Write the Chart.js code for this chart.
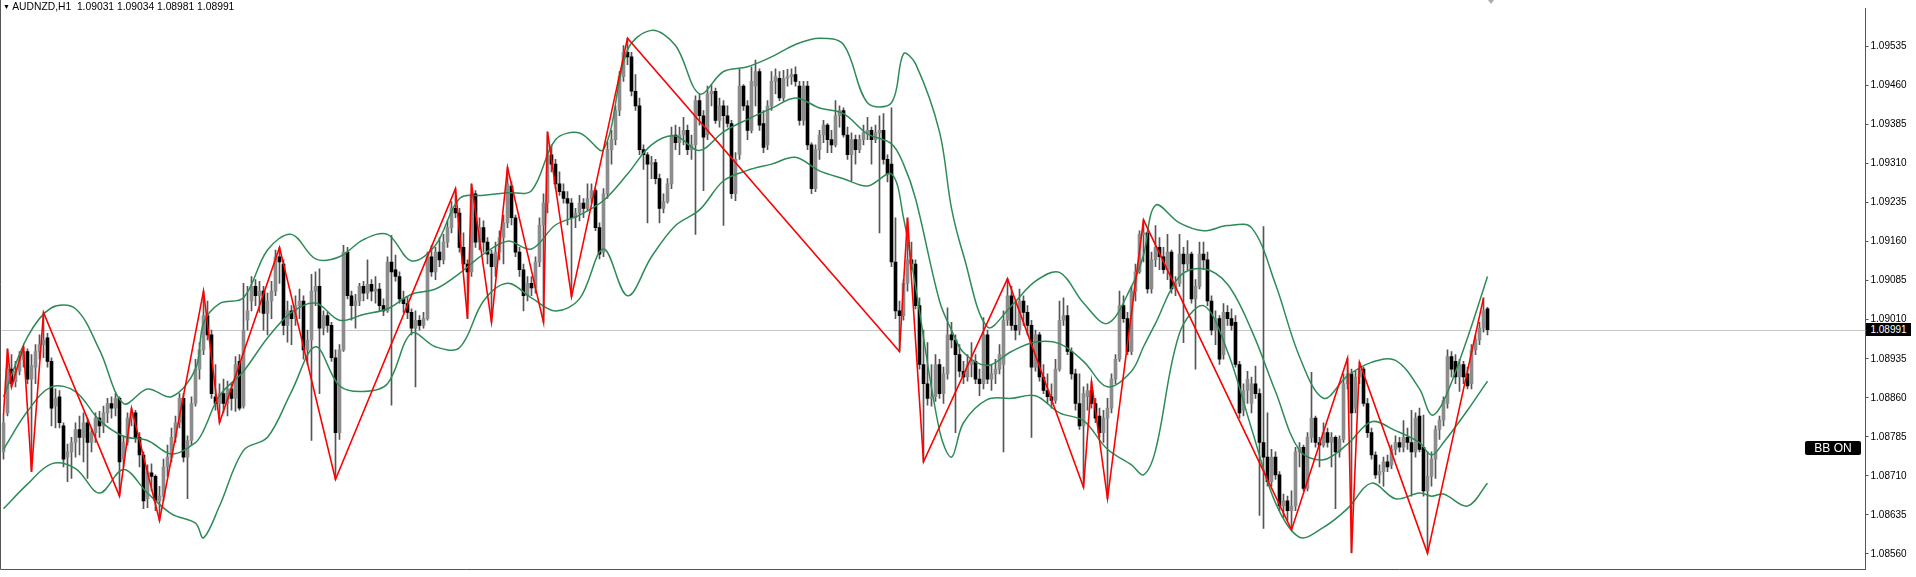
<!DOCTYPE html>
<html><head><meta charset="utf-8">
<script src="https://cdn.jsdelivr.net/npm/chart.js@4.4.0/dist/chart.umd.min.js"></script>
<style>
html,body{margin:0;padding:0;background:#fff;overflow:hidden;}
#wrap{position:relative;width:1916px;height:577px;}
canvas{position:absolute;left:0;top:0;}
#title{position:absolute;left:3px;top:0px;font:10.3px "Liberation Sans",Arial,sans-serif;color:#000;white-space:pre;line-height:14px;}
#title .tri{font-size:7px;position:relative;top:-1px;}
#bbon{position:absolute;left:1805px;top:441px;width:56px;height:14px;background:#000;color:#fff;font:12px "Liberation Sans",Arial,sans-serif;text-align:center;line-height:14px;border-radius:2px;}
#ptag{position:absolute;left:1866px;width:45px;height:13px;background:#000;color:#fff;font:10px "Liberation Sans",Arial,sans-serif;line-height:13px;text-align:center;}
#shift{position:absolute;left:1488px;top:0;width:0;height:0;border-left:3px solid transparent;border-right:3px solid transparent;border-top:4px solid #aaa;}
</style></head>
<body><div id="wrap"><canvas id="c" width="1916" height="577"></canvas><div id="title"></div><div id="bbon">BB ON</div><div id="ptag"></div><div id="shift"></div></div>
<script>
const symbol = "AUDNZD,H1";
const yTicks = [1.09535,1.09460,1.09385,1.09310,1.09235,1.09160,1.09085,1.09010,1.08935,1.08860,1.08785,1.08710,1.08635,1.08560];

const opens = [
1.08756,1.08831,1.08915,1.08891,1.08911,1.08934,1.08949,1.08896,1.08919,1.08949,
1.08962,1.08975,1.08930,1.08844,1.08862,1.08806,1.08746,1.08756,1.08774,1.08799,
1.08784,1.08812,1.08774,1.08793,1.08821,1.08806,1.08831,1.08849,1.08840,1.08859,
1.08742,1.08774,1.08821,1.08831,1.08784,1.08750,1.08666,1.08716,1.08709,1.08662,
1.08671,1.08727,1.08746,1.08784,1.08812,1.08859,1.08746,1.08778,1.08849,1.08915,
1.08952,1.09018,1.08981,1.08862,1.08849,1.08868,1.08849,1.08877,1.08859,1.08930,
1.08844,1.09009,1.09046,1.09074,1.09056,1.09065,1.09022,1.09046,1.09065,1.09131,
1.09117,1.08999,1.09027,1.09012,1.09037,1.09046,1.08952,1.08971,1.09065,1.09074,
1.08994,1.09018,1.08999,1.08937,1.08793,1.08952,1.09140,1.09056,1.09037,1.09046,
1.09074,1.09061,1.09078,1.09065,1.09069,1.09037,1.09027,1.09121,1.09106,1.09093,
1.09050,1.09041,1.09024,1.08994,1.09009,1.08999,1.09012,1.09131,1.09102,1.09140,
1.09125,1.09159,1.09187,1.09224,1.09215,1.09149,1.09117,1.09102,1.09252,1.09159,
1.09187,1.09159,1.09136,1.09112,1.09140,1.09168,1.09196,1.09267,1.09206,1.09140,
1.09106,1.09056,1.09080,1.09071,1.09121,1.09192,1.09234,1.09327,1.09309,1.09271,
1.09256,1.09243,1.09234,1.09206,1.09215,1.09234,1.09224,1.09243,1.09258,1.09187,
1.09140,1.09252,1.09337,1.09356,1.09412,1.09477,1.09524,1.09515,1.09449,1.09421,
1.09337,1.09327,1.09309,1.09312,1.09281,1.09224,1.09237,1.09271,1.09365,1.09350,
1.09365,1.09374,1.09337,1.09346,1.09431,1.09402,1.09365,1.09444,1.09449,1.09393,
1.09421,1.09402,1.09387,1.09252,1.09327,1.09459,1.09421,1.09374,1.09459,1.09487,
1.09387,1.09346,1.09421,1.09468,1.09474,1.09436,1.09474,1.09477,1.09481,1.09459,
1.09393,1.09459,1.09346,1.09262,1.09337,1.09365,1.09384,1.09356,1.09346,1.09402,
1.09412,1.09365,1.09327,1.09356,1.09337,1.09356,1.09369,1.09374,1.09356,1.09369,
1.09374,1.09318,1.09309,1.09121,1.09027,1.09018,1.09080,1.09125,1.09117,1.09037,
1.08924,1.08887,1.08859,1.08862,1.08924,1.08868,1.08906,1.08981,1.08971,1.08943,
1.08911,1.08900,1.08924,1.08930,1.08896,1.08887,1.08981,1.08896,1.08906,1.08915,
1.08924,1.09009,1.09056,1.08999,1.08990,1.09046,1.09024,1.08999,1.08919,1.08981,
1.08900,1.08874,1.08862,1.08855,1.08915,1.09009,1.09018,1.08949,1.08906,1.08849,
1.08806,1.08862,1.08874,1.08849,1.08825,1.08793,1.08821,1.08840,1.08896,1.08934,
1.09037,1.09012,1.08949,1.09065,1.09102,1.09174,1.09177,1.09069,1.09125,1.09149,
1.09131,1.09106,1.09140,1.09069,1.09080,1.09136,1.09117,1.09136,1.09050,1.09074,
1.09136,1.09125,1.09046,1.08990,1.09012,1.08943,1.09024,1.09012,1.09005,1.08924,
1.08836,1.08874,1.08849,1.08887,1.08868,1.08774,1.08746,1.08699,1.08746,1.08712,
1.08652,1.08662,1.08643,1.08652,1.08756,1.08765,1.08686,1.08784,1.08821,1.08774,
1.08769,1.08793,1.08774,1.08784,1.08756,1.08780,1.08887,1.08906,1.08840,1.08900,
1.08915,1.08849,1.08793,1.08750,1.08712,1.08718,1.08737,1.08731,1.08761,1.08774,
1.08765,1.08784,1.08774,1.08756,1.08825,1.08765,1.08681,1.08709,1.08742,1.08799,
1.08817,1.08849,1.08939,1.08930,1.08900,1.08924,1.08906,1.08887,1.08952,1.08971,1.08994,1.09031];

const highs = [
1.08827,1.08954,1.08943,1.08930,1.08949,1.08958,1.08954,1.08943,1.08962,1.08981,
1.09024,1.08984,1.08937,1.08877,1.08874,1.08812,1.08771,1.08784,1.08812,1.08825,
1.08831,1.08821,1.08802,1.08831,1.08834,1.08844,1.08859,1.08862,1.08868,1.08862,
1.08787,1.08831,1.08840,1.08836,1.08793,1.08756,1.08731,1.08733,1.08712,1.08690,
1.08742,1.08769,1.08802,1.08825,1.08868,1.08868,1.08787,1.08862,1.08934,1.08966,
1.09065,1.09046,1.08990,1.08924,1.08887,1.08896,1.08892,1.08887,1.08939,1.08943,
1.09080,1.09074,1.09093,1.09087,1.09084,1.09074,1.09061,1.09084,1.09144,1.09149,
1.09125,1.09046,1.09037,1.09056,1.09069,1.09056,1.08990,1.09097,1.09102,1.09108,
1.09027,1.09024,1.09005,1.08952,1.08962,1.09153,1.09149,1.09065,1.09059,1.09080,
1.09084,1.09125,1.09087,1.09093,1.09080,1.09050,1.09131,1.09172,1.09134,1.09102,
1.09065,1.09054,1.09031,1.09027,1.09018,1.09024,1.09140,1.09153,1.09149,1.09168,
1.09174,1.09200,1.09237,1.09262,1.09224,1.09177,1.09125,1.09271,1.09258,1.09206,
1.09200,1.09168,1.09144,1.09159,1.09181,1.09211,1.09303,1.09275,1.09211,1.09149,
1.09117,1.09093,1.09093,1.09131,1.09206,1.09252,1.09371,1.09346,1.09318,1.09294,
1.09271,1.09256,1.09243,1.09224,1.09249,1.09243,1.09271,1.09271,1.09262,1.09196,
1.09262,1.09352,1.09374,1.09421,1.09487,1.09537,1.09551,1.09524,1.09481,1.09436,
1.09346,1.09331,1.09324,1.09318,1.09290,1.09252,1.09281,1.09380,1.09384,1.09380,
1.09399,1.09384,1.09365,1.09440,1.09444,1.09412,1.09459,1.09462,1.09455,1.09436,
1.09431,1.09421,1.09393,1.09331,1.09491,1.09462,1.09431,1.09496,1.09509,1.09492,
1.09412,1.09431,1.09487,1.09492,1.09487,1.09489,1.09491,1.09492,1.09496,1.09468,
1.09468,1.09468,1.09350,1.09346,1.09374,1.09393,1.09387,1.09374,1.09431,1.09421,
1.09417,1.09380,1.09369,1.09365,1.09365,1.09384,1.09399,1.09380,1.09384,1.09402,
1.09406,1.09327,1.09417,1.09206,1.09046,1.09087,1.09206,1.09159,1.09125,1.09052,
1.08990,1.08966,1.08924,1.08943,1.08934,1.08919,1.09033,1.09005,1.08981,1.08962,
1.08930,1.08943,1.08966,1.08943,1.08915,1.09014,1.08990,1.08924,1.08934,1.08962,
1.09027,1.09089,1.09074,1.09046,1.09069,1.09056,1.09037,1.09009,1.08990,1.08986,
1.08924,1.08906,1.08887,1.08934,1.09046,1.09052,1.09037,1.08956,1.08915,1.08906,
1.08881,1.08887,1.08891,1.08859,1.08840,1.08836,1.08859,1.08906,1.08943,1.09065,
1.09056,1.09024,1.09074,1.09117,1.09181,1.09202,1.09181,1.09140,1.09191,1.09168,
1.09149,1.09174,1.09144,1.09093,1.09174,1.09149,1.09162,1.09140,1.09087,1.09159,
1.09159,1.09140,1.09056,1.09027,1.09018,1.09041,1.09037,1.09031,1.09018,1.08930,
1.08887,1.08911,1.08900,1.08921,1.08877,1.09189,1.08831,1.08761,1.08756,1.08718,
1.08675,1.08671,1.08681,1.08765,1.08774,1.08769,1.08793,1.08909,1.08825,1.08784,
1.08812,1.08802,1.08793,1.08787,1.08787,1.08906,1.08936,1.08915,1.08911,1.08928,
1.08919,1.08859,1.08802,1.08756,1.08731,1.08746,1.08750,1.08769,1.08787,1.08784,
1.08816,1.08802,1.08836,1.08831,1.08840,1.08827,1.08756,1.08756,1.08806,1.08825,
1.08862,1.08952,1.08949,1.08943,1.08934,1.08930,1.08919,1.08962,1.08981,1.09005,1.09052,1.09034];

const lows = [
1.08742,1.08825,1.08881,1.08881,1.08904,1.08919,1.08887,1.08718,1.08887,1.08934,
1.08937,1.08919,1.08806,1.08802,1.08802,1.08727,1.08699,1.08705,1.08746,1.08750,
1.08737,1.08705,1.08756,1.08774,1.08784,1.08793,1.08812,1.08821,1.08825,1.08671,
1.08727,1.08769,1.08806,1.08774,1.08727,1.08647,1.08649,1.08681,1.08643,1.08624,
1.08662,1.08709,1.08737,1.08774,1.08802,1.08737,1.08666,1.08769,1.08844,1.08896,
1.08943,1.08971,1.08859,1.08836,1.08812,1.08831,1.08825,1.08836,1.08834,1.08836,
1.08840,1.08990,1.09027,1.09037,1.09024,1.08990,1.08981,1.09012,1.09056,1.09080,
1.08981,1.08967,1.08962,1.08999,1.09012,1.08934,1.08924,1.08778,1.09037,1.08868,
1.08981,1.08986,1.08930,1.08703,1.08780,1.08949,1.09050,1.09009,1.08994,1.09037,
1.09046,1.09050,1.09046,1.09042,1.09027,1.09018,1.09024,1.08846,1.09084,1.09042,
1.09024,1.09012,1.08981,1.08881,1.08990,1.08994,1.09009,1.09093,1.09087,1.09112,
1.09117,1.09149,1.09177,1.09206,1.09140,1.09106,1.09012,1.09093,1.09149,1.09144,
1.09140,1.09117,1.09005,1.09093,1.09125,1.09117,1.09187,1.09192,1.09131,1.09093,
1.09027,1.09046,1.09056,1.09061,1.09112,1.09005,1.09215,1.09294,1.09262,1.09249,
1.09234,1.09192,1.09054,1.09187,1.09200,1.09206,1.09219,1.09234,1.09181,1.09127,
1.09131,1.09243,1.09309,1.09346,1.09402,1.09468,1.09500,1.09440,1.09412,1.09327,
1.09299,1.09196,1.09281,1.09271,1.09196,1.09215,1.09234,1.09262,1.09337,1.09327,
1.09346,1.09327,1.09318,1.09174,1.09384,1.09258,1.09356,1.09421,1.09387,1.09380,
1.09191,1.09380,1.09243,1.09239,1.09318,1.09412,1.09356,1.09369,1.09421,1.09374,
1.09331,1.09337,1.09412,1.09444,1.09431,1.09431,1.09459,1.09462,1.09459,1.09384,
1.09384,1.09337,1.09252,1.09256,1.09318,1.09350,1.09331,1.09331,1.09342,1.09380,
1.09361,1.09318,1.09277,1.09309,1.09331,1.09346,1.09356,1.09309,1.09350,1.09177,
1.09309,1.09275,1.09112,1.09012,1.08949,1.09009,1.09065,1.09106,1.09031,1.08915,
1.08737,1.08846,1.08844,1.08853,1.08859,1.08849,1.08896,1.08956,1.08793,1.08900,
1.08887,1.08892,1.08900,1.08887,1.08864,1.08877,1.08887,1.08874,1.08887,1.08906,
1.08756,1.08999,1.08990,1.08971,1.08981,1.08999,1.08981,1.08784,1.08911,1.08892,
1.08868,1.08849,1.08840,1.08849,1.08911,1.08999,1.08943,1.08896,1.08836,1.08799,
1.08688,1.08836,1.08840,1.08812,1.08784,1.08774,1.08666,1.08831,1.08887,1.08930,
1.09005,1.08943,1.08943,1.09046,1.09099,1.09121,1.09061,1.09061,1.09112,1.09106,
1.09099,1.09087,1.09061,1.09056,1.09074,1.08966,1.09106,1.09042,1.08915,1.09069,
1.09106,1.09037,1.08981,1.08962,1.08924,1.08934,1.08999,1.08990,1.08919,1.08821,
1.08825,1.08849,1.08831,1.08859,1.08634,1.08609,1.08690,1.08690,1.08703,1.08643,
1.08630,1.08624,1.08606,1.08643,1.08727,1.08681,1.08681,1.08774,1.08765,1.08727,
1.08765,1.08765,1.08727,1.08647,1.08746,1.08774,1.08877,1.08562,1.08831,1.08887,
1.08844,1.08784,1.08742,1.08705,1.08696,1.08690,1.08718,1.08724,1.08750,1.08756,
1.08756,1.08761,1.08671,1.08746,1.08756,1.08671,1.08561,1.08690,1.08705,1.08780,
1.08806,1.08840,1.08900,1.08887,1.08872,1.08887,1.08877,1.08877,1.08943,1.08962,1.08986,1.08981];

const closes = [
1.08812,1.08915,1.08887,1.08911,1.08934,1.08949,1.08896,1.08922,1.08949,1.08962,
1.08971,1.08930,1.08840,1.08859,1.08812,1.08742,1.08756,1.08774,1.08799,1.08784,
1.08812,1.08774,1.08793,1.08821,1.08806,1.08831,1.08849,1.08840,1.08859,1.08737,
1.08774,1.08821,1.08831,1.08784,1.08750,1.08662,1.08718,1.08709,1.08662,1.08671,
1.08727,1.08746,1.08784,1.08812,1.08859,1.08746,1.08778,1.08849,1.08915,1.08952,
1.09018,1.08981,1.08868,1.08849,1.08868,1.08849,1.08877,1.08859,1.08924,1.08840,
1.08990,1.09027,1.09074,1.09056,1.09065,1.09022,1.09046,1.09065,1.09131,1.09121,
1.08999,1.09027,1.09012,1.09037,1.09046,1.08952,1.08971,1.09065,1.09074,1.08994,
1.09018,1.08999,1.08937,1.08793,1.08952,1.09140,1.09056,1.09037,1.09046,1.09074,
1.09061,1.09078,1.09065,1.09069,1.09037,1.09027,1.09121,1.09102,1.09093,1.09050,
1.09041,1.09024,1.08994,1.09009,1.08999,1.09012,1.09131,1.09102,1.09140,1.09125,
1.09159,1.09187,1.09224,1.09215,1.09149,1.09117,1.09102,1.09252,1.09159,1.09187,
1.09159,1.09136,1.09112,1.09140,1.09168,1.09196,1.09271,1.09206,1.09140,1.09106,
1.09056,1.09080,1.09071,1.09121,1.09192,1.09234,1.09327,1.09309,1.09271,1.09256,
1.09243,1.09234,1.09206,1.09215,1.09234,1.09224,1.09243,1.09258,1.09187,1.09136,
1.09252,1.09337,1.09356,1.09412,1.09477,1.09524,1.09515,1.09449,1.09421,1.09337,
1.09327,1.09309,1.09312,1.09281,1.09224,1.09237,1.09271,1.09365,1.09350,1.09365,
1.09374,1.09337,1.09346,1.09431,1.09402,1.09361,1.09444,1.09449,1.09393,1.09421,
1.09402,1.09387,1.09252,1.09318,1.09459,1.09421,1.09374,1.09468,1.09487,1.09384,
1.09341,1.09421,1.09468,1.09477,1.09436,1.09474,1.09477,1.09481,1.09468,1.09393,
1.09459,1.09346,1.09262,1.09337,1.09365,1.09384,1.09356,1.09346,1.09402,1.09412,
1.09365,1.09327,1.09356,1.09337,1.09356,1.09369,1.09374,1.09356,1.09369,1.09374,
1.09318,1.09290,1.09121,1.09027,1.09018,1.09080,1.09125,1.09117,1.09037,1.08924,
1.08887,1.08859,1.08862,1.08924,1.08868,1.08906,1.08981,1.08971,1.08943,1.08911,
1.08900,1.08924,1.08930,1.08896,1.08887,1.08981,1.08896,1.08906,1.08915,1.08943,
1.09009,1.09056,1.08999,1.08990,1.09046,1.09024,1.08999,1.08919,1.08981,1.08900,
1.08874,1.08862,1.08855,1.08915,1.09009,1.09018,1.08949,1.08906,1.08849,1.08806,
1.08868,1.08874,1.08849,1.08821,1.08793,1.08821,1.08840,1.08896,1.08934,1.09037,
1.09012,1.08949,1.09065,1.09102,1.09174,1.09177,1.09069,1.09125,1.09149,1.09131,
1.09106,1.09140,1.09069,1.09080,1.09136,1.09117,1.09136,1.09050,1.09074,1.09136,
1.09125,1.09046,1.08990,1.09012,1.08934,1.09024,1.09012,1.08999,1.08924,1.08831,
1.08874,1.08896,1.08887,1.08868,1.08774,1.08746,1.08699,1.08746,1.08712,1.08652,
1.08662,1.08643,1.08652,1.08756,1.08765,1.08686,1.08784,1.08821,1.08774,1.08769,
1.08793,1.08774,1.08784,1.08756,1.08780,1.08887,1.08906,1.08831,1.08900,1.08915,
1.08849,1.08793,1.08750,1.08712,1.08718,1.08737,1.08727,1.08761,1.08774,1.08765,
1.08784,1.08774,1.08756,1.08821,1.08761,1.08681,1.08709,1.08742,1.08799,1.08817,
1.08855,1.08939,1.08915,1.08900,1.08924,1.08900,1.08883,1.08952,1.08971,1.08994,1.09027,1.08991];

// ZigZag turning points (bar index, price)
const zzIdx = [0,1,2,5,7,10,29,32,39,50,54,69,83,113,116,117,122,126,135,136,142,156,224,226,230,251,270,272,276,285,322,336,337,339,356,370];
const zzPrice = [1.08827,1.08954,1.08881,1.08958,1.08718,1.09024,1.08671,1.08840,1.08624,1.09065,1.08812,1.09149,1.08703,1.09262,1.09012,1.09271,1.09005,1.09303,1.09005,1.09371,1.09054,1.09551,1.08949,1.09206,1.08737,1.09089,1.08688,1.08891,1.08666,1.09202,1.08606,1.08936,1.08562,1.08928,1.08561,1.09052];

// Bollinger bands read at these bar indexes
const bbIdx = [0,6,12,18,24,30,36,42,48,50,54,60,66,72,78,84,90,96,102,108,114,120,126,132,138,144,150,156,162,168,174,180,186,192,198,204,210,216,222,225,228,234,237,240,246,252,258,264,270,276,282,285,288,294,300,306,312,318,324,330,336,342,348,354,357,360,366,371];
const bbUpper = [1.08862,1.08977,1.09033,1.09031,1.08952,1.08849,1.08877,1.08862,1.08915,
1.09003,1.09041,1.09052,
1.09144,1.09174,1.09127,1.09131,1.09164,1.09174,1.09123,1.09153,1.09243,1.09249,
1.09254,1.09258,1.09356,1.09369,1.09337,1.09528,1.09566,1.09537,1.09444,1.09487,1.09496,
1.09515,1.09539,1.09551,1.09539,1.09427,1.09427,
1.09521,1.09502,
1.09371,1.09224,1.09134,1.08996,
1.09037,1.09084,1.09101,1.09042,1.09003,1.09074,
1.09134,1.09230,1.09196,1.09181,1.09191,
1.09187,1.09078,1.08939,1.08859,1.08902,1.08928,1.08932,1.08877,
1.08827,1.08853,1.08975,1.09093];
const bbMiddle = [1.08761,1.08834,1.08881,1.08872,1.08817,1.08786,1.08778,1.08752,1.08774,
1.08797,1.08864,1.08911,
1.08975,1.09024,1.09042,1.09009,1.09020,1.09031,1.09059,1.09069,1.09099,1.09136,
1.09161,1.09146,1.09192,1.09211,1.09239,1.09290,1.09346,1.09363,1.09335,1.09371,1.09395,
1.09416,1.09436,1.09417,1.09406,1.09367,1.09348,
1.09309,1.09243,
1.09046,1.08990,1.08947,1.08922,
1.08949,1.08967,1.08964,1.08930,1.08881,1.08911,
1.08958,1.09003,1.09093,1.09108,1.09078,
1.08990,1.08872,1.08759,1.08741,1.08771,1.08814,1.08797,1.08774,
1.08750,1.08774,1.08836,1.08892];
const bbLower = [1.08647,1.08694,1.08733,1.08724,1.08677,1.08722,1.08677,1.08637,1.08619,
1.08591,1.08652,1.08759,
1.08784,1.08872,1.08958,1.08883,1.08872,1.08887,1.08984,1.08958,1.08956,1.09046,
1.09080,1.09052,1.09027,1.09050,1.09146,1.09056,1.09131,1.09191,1.09221,1.09277,1.09297,
1.09309,1.09322,1.09296,1.09281,1.09267,1.09290,
1.09206,1.09074,
1.08797,1.08746,1.08812,1.08857,
1.08859,1.08864,1.08831,1.08816,1.08761,1.08731,
1.08712,1.08759,1.08984,1.09037,1.08949,
1.08801,1.08658,1.08592,1.08611,1.08647,1.08696,1.08666,1.08677,
1.08671,1.08675,1.08652,1.08696];

const N = opens.length;
if (highs.length !== N || lows.length !== N || closes.length !== N) throw new Error('OHLC length mismatch ' + [N, highs.length, lows.length, closes.length].join(','));
if (zzIdx.length !== zzPrice.length) throw new Error('zz mismatch');
if (bbUpper.length !== bbIdx.length || bbMiddle.length !== bbIdx.length || bbLower.length !== bbIdx.length) throw new Error('bb mismatch ' + [bbIdx.length, bbUpper.length, bbMiddle.length, bbLower.length].join(','));

const SLOTS = 466; // visible bar slots incl. empty space on the right
const slotLabels = Array.from({length: SLOTS}, (_, i) => String(i));
const last = N - 1;

document.getElementById('title').innerHTML = '<span class="tri">\u25BC</span> ' + symbol + '  ' +
  [opens[last], highs[last], lows[last], closes[last]].map(v => v.toFixed(5)).join(' ');

const pts = (idx, vals) => idx.map((x, k) => ({x, y: vals[k]}));

const framePlugin = {
  id: 'frame',
  beforeDatasetsDraw(chart) {
    const {ctx, chartArea: a, scales: {y}} = chart;
    const py = Math.round(y.getPixelForValue(closes[last])) + 0.5;
    ctx.save();
    ctx.strokeStyle = '#c8c8c8'; ctx.lineWidth = 1;
    ctx.beginPath(); ctx.moveTo(a.left, py); ctx.lineTo(a.right, py); ctx.stroke();
    ctx.restore();
  },
  afterDraw(chart) {
    const {ctx, chartArea: a, scales: {y}} = chart;
    ctx.save();
    ctx.strokeStyle = '#555'; ctx.lineWidth = 1;
    ctx.beginPath();
    ctx.moveTo(0.5, 0); ctx.lineTo(0.5, a.bottom + 0.5); ctx.lineTo(a.right, a.bottom + 0.5);
    ctx.stroke();
    ctx.restore();
    const tag = document.getElementById('ptag');
    tag.textContent = closes[last].toFixed(5);
    tag.style.top = (y.getPixelForValue(closes[last]) - 6.5) + 'px';
  }
};

new Chart(document.getElementById('c'), {
  type: 'bar',
  data: {
    labels: slotLabels,
    datasets: [
      { type: 'line', label: 'ZigZag', data: pts(zzIdx, zzPrice), xAxisID: 'xl', yAxisID: 'y',
        borderColor: '#ff0000', borderWidth: 1.6, pointRadius: 0, tension: 0, fill: false, order: 1 },
      { type: 'line', label: 'BB upper', data: pts(bbIdx, bbUpper), xAxisID: 'xl', yAxisID: 'y',
        borderColor: '#2e8b57', borderWidth: 1.5, pointRadius: 0, tension: 0.35, fill: false, order: 2 },
      { type: 'line', label: 'BB middle', data: pts(bbIdx, bbMiddle), xAxisID: 'xl', yAxisID: 'y',
        borderColor: '#2e8b57', borderWidth: 1.5, pointRadius: 0, tension: 0.35, fill: false, order: 2 },
      { type: 'line', label: 'BB lower', data: pts(bbIdx, bbLower), xAxisID: 'xl', yAxisID: 'y',
        borderColor: '#2e8b57', borderWidth: 1.5, pointRadius: 0, tension: 0.35, fill: false, order: 2 },
      { type: 'bar', label: 'body', data: opens.map((o, i) => [o, closes[i]]), xAxisID: 'x', yAxisID: 'y',
        backgroundColor: opens.map((o, i) => closes[i] >= o ? '#8c8c8c' : '#000000'),
        barThickness: 3, grouped: false, order: 3 },
      { type: 'bar', label: 'wick', data: lows.map((l, i) => [l, highs[i]]), xAxisID: 'x', yAxisID: 'y',
        backgroundColor: '#555555', barThickness: 1, grouped: false, order: 4 }
    ]
  },
  options: {
    responsive: false, animation: false, devicePixelRatio: 1, events: [],
    layout: { padding: { left: 1.5, top: 0, right: 0, bottom: 2 } },
    plugins: { legend: { display: false }, tooltip: { enabled: false }, title: { display: false } },
    scales: {
      x: { type: 'category', display: false, offset: true, grid: { display: false } },
      xl: { type: 'linear', display: false, offset: false, bounds: 'ticks', min: -0.5, max: SLOTS - 0.5, grid: { offset: false } },
      y: {
        position: 'right', min: 1.08531, max: 1.09609,
        afterBuildTicks: s => { s.ticks = yTicks.map(v => ({ value: v })); },
        afterFit: s => { s.width = 50.5; },
        ticks: { callback: v => Number(v).toFixed(5), autoSkip: false, maxRotation: 0, padding: 2,
                 color: '#000', font: { family: 'Liberation Sans', size: 10 } },
        grid: { drawOnChartArea: false, drawTicks: true, tickLength: 3, color: '#555' },
        border: { display: true, color: '#555', width: 1 }
      }
    }
  },
  plugins: [framePlugin]
});
</script>
</body></html>
